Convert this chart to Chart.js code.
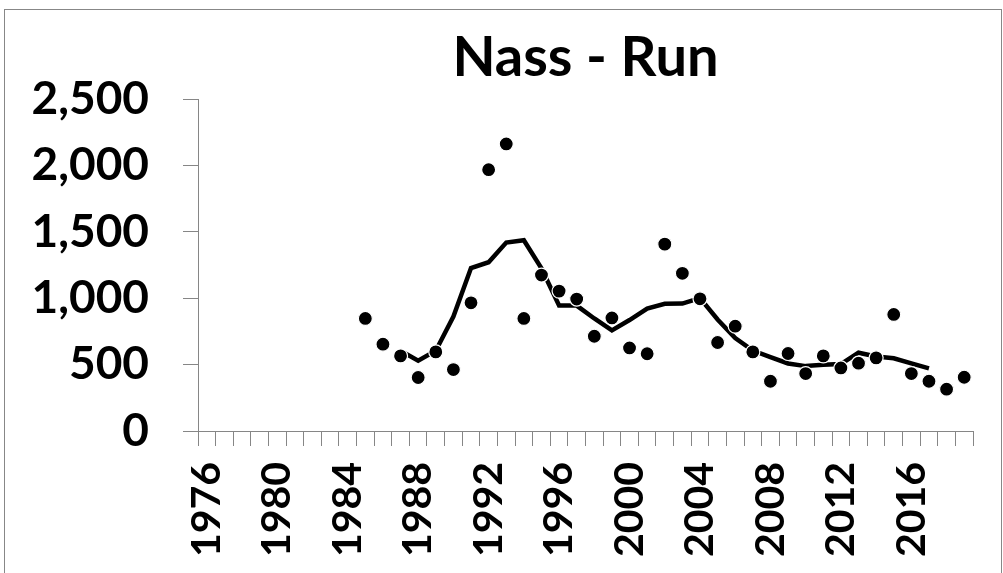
<!DOCTYPE html>
<html>
<head>
<meta charset="utf-8">
<title>Nass - Run</title>
<script src="https://cdn.jsdelivr.net/npm/chart.js@4/dist/chart.umd.min.js"></script>
<style>
    html, body { margin: 0; padding: 0; background: #fff; overflow: hidden; }
    #frame {
        position: absolute; left: 4px; top: 9px;
        width: 996px; height: 600px;
        border: 1px solid #878787;
    }
    #chart { position: absolute; left: 0; top: 0; }
</style>
</head>
<body>
<div id="frame"></div>
<canvas id="chart" width="1003" height="573"></canvas>
<script>
// years on the category axis
const years = [];
for (let y = 1976; y <= 2019; y++) years.push(String(y));

// yearly run counts (dots), 1976-2019
const runCounts = [
    null, null, null, null, null, null, null, null, null,
    848, 654, 566, 403, 596, 463, 966, 1969, 2163, 848, 1175,
    1054, 994, 714, 852, 626, 582, 1408, 1188, 996, 667,
    790, 596, 375, 584, 433, 566, 475, 511, 551, 878,
    433, 375, 315, 405
];

// moving average line
const runAverage = [
    null, null, null, null, null, null, null, null, null,
    null, null, 605, 530, 605, 862, 1228, 1272, 1420, 1437, 1225,
    945, 945, 848, 758, 836, 922, 958, 960, 1002, 840,
    700, 606, 557, 509, 489, 500, 504, 590, 562, 548,
    509, 472, null, null
];

const yTicks = [0, 500, 1000, 1500, 2000, 2500];

const axisGray = '#868686';
const fontFamily = 'Lato, "Open Sans", sans-serif';

function noEdgePadding(scale) {
    scale.paddingLeft = 0;
    scale.paddingRight = 0;
    scale.paddingTop = 0;
    scale.paddingBottom = 0;
}

const ctx = document.getElementById('chart').getContext('2d');

new Chart(ctx, {
    type: 'line',
    data: {
        labels: years,
        datasets: [
            {
                label: 'Run',
                data: runCounts,
                showLine: false,
                pointRadius: 7,
                pointBackgroundColor: '#000',
                pointBorderColor: '#fff',
                pointBorderWidth: 1.2,
                order: 0
            },
            {
                label: 'Average',
                data: runAverage,
                borderColor: '#000',
                borderWidth: 4.5,
                pointRadius: 0,
                tension: 0,
                spanGaps: false,
                order: 1
            }
        ]
    },
    options: {
        responsive: false,
        animation: false,
        devicePixelRatio: 1,
        layout: { padding: { left: 0, right: 30, top: 0, bottom: 0 } },
        plugins: {
            legend: { display: false },
            tooltip: { enabled: false },
            title: {
                display: true,
                text: 'Nass - Run',
                color: '#000',
                fullSize: false,
                font: { family: fontFamily, weight: 'bold', size: 56 },
                padding: { top: 24, bottom: 8 }
            }
        },
        scales: {
            x: {
                type: 'category',
                offset: true,
                grid: {
                    offset: true,
                    drawOnChartArea: false,
                    drawTicks: true,
                    tickLength: 15,
                    color: axisGray
                },
                border: { display: true, color: axisGray, width: 1 },
                ticks: {
                    autoSkip: false,
                    minRotation: 90,
                    maxRotation: 90,
                    padding: 16,
                    color: '#000',
                    font: { family: fontFamily, weight: 'bold', size: 41 },
                    callback: function (value, index) {
                        const label = this.getLabelForValue(value);
                        return (Number(label) - 1976) % 4 === 0 ? label : '';
                    }
                },
                afterFit: (scale) => {
                    scale.height = 142;
                    noEdgePadding(scale);
                }
            },
            y: {
                min: yTicks[0],
                max: yTicks[yTicks.length - 1],
                grid: {
                    drawOnChartArea: false,
                    drawTicks: true,
                    tickLength: 15,
                    color: axisGray
                },
                border: { display: true, color: axisGray, width: 1 },
                afterBuildTicks: (scale) => {
                    scale.ticks = yTicks.map(v => ({ value: v }));
                },
                ticks: {
                    padding: 34,
                    color: '#000',
                    font: { family: fontFamily, weight: 'bold', size: 46 },
                    callback: (value) => Number(value).toLocaleString('en-US')
                },
                afterFit: (scale) => {
                    scale.width = 198;
                    noEdgePadding(scale);
                }
            }
        }
    }
});
</script>
</body>
</html>
